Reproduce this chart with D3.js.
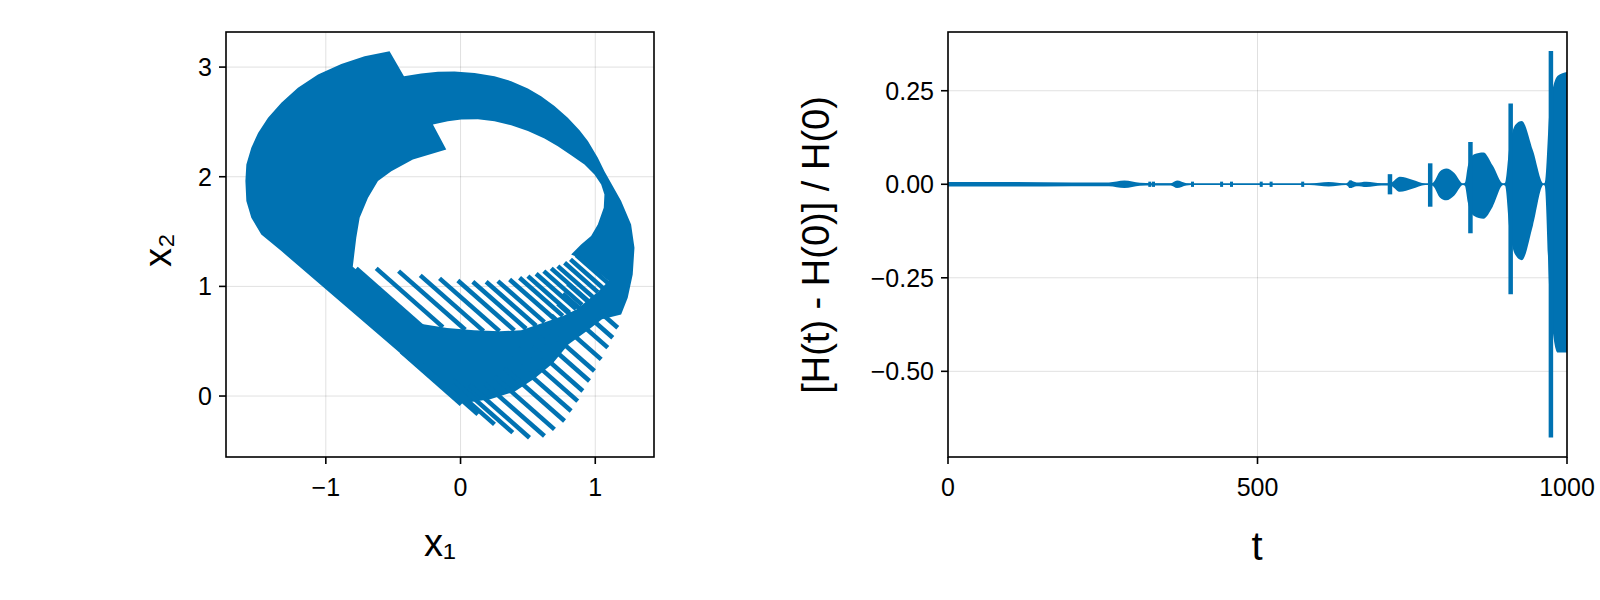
<!DOCTYPE html>
<html>
<head>
<meta charset="utf-8">
<script src="https://cdn.jsdelivr.net/npm/d3@7"></script>
<style>
  body { margin: 0; background: #fff; }
  text { font-family: "Liberation Sans", Arial, sans-serif; fill: #000; }
</style>
</head>
<body>
<svg id="chart" width="1600" height="600"></svg>
<script>
// phase portrait: filled outline (x1, x2)
const outerX1 = [-0.527,-0.420,-0.292,-0.168,-0.045,0.104,0.252,0.376,0.500,0.598,0.697,0.796,0.883,0.945,1.019,1.068,1.192,1.266,1.291,1.278,1.241,1.192,
                 1.050,0.945,0.800,0.685,0.550,0.400,0.220,0.050,-0.050,
                 -1.330,-1.479,-1.553,-1.590,-1.597,-1.590,-1.553,-1.503,-1.429,-1.330,-1.207,-1.058,-0.885,-0.712];
const outerX2 = [3.145,2.917,2.941,2.957,2.960,2.947,2.917,2.871,2.805,2.735,2.644,2.537,2.425,2.325,2.173,2.051,1.778,1.565,1.352,1.109,0.896,0.744,
                 0.700,0.600,0.470,0.300,0.160,0.040,-0.030,-0.060,-0.030,
                 1.322,1.474,1.626,1.778,1.960,2.112,2.264,2.400,2.537,2.674,2.811,2.932,3.029,3.099];
// inner hole + gap zone of the upper stripes
const holeX1 = [-0.205,-0.094,0.005,0.129,0.252,0.376,0.500,0.623,0.722,0.821,0.920,0.994,1.044,1.068,1.063,1.019,0.969,0.895,0.821,0.900,1.100,
                1.020,0.940,0.860,0.760,0.620,0.450,0.290,0.100,-0.100,-0.300,-0.800,
                -0.774,-0.749,-0.687,-0.613,-0.514,-0.354,-0.106];
const holeX2 = [2.476,2.507,2.522,2.525,2.507,2.470,2.416,2.349,2.279,2.197,2.112,2.021,1.930,1.838,1.717,1.565,1.459,1.383,1.291,1.250,1.050,
                0.950,0.870,0.790,0.730,0.670,0.600,0.590,0.600,0.620,0.660,1.180,
                1.443,1.626,1.808,1.960,2.051,2.157,2.249];

// stripes: start (x1,x2) and end (x1,x2)
const stripeX1a = [-0.774,-0.626,-0.460,-0.299,-0.156,-0.020,0.091,0.190,0.277,0.364,0.438,0.500,0.561,0.618,0.673,0.722,0.772,0.816,0.858,
                   -0.440,-0.316,-0.193,-0.057,0.067,0.178,0.252,0.327,0.376,0.425,0.537,0.586,0.623,0.673,0.722,0.759,0.796];
const stripeX2a = [1.164,1.164,1.139,1.100,1.073,1.054,1.042,1.042,1.048,1.063,1.079,1.094,1.115,1.139,1.164,1.185,1.215,1.246,1.285,
                   0.405,0.314,0.223,0.147,0.101,0.116,0.177,0.253,0.344,0.435,0.447,0.538,0.629,0.735,0.842,0.933,1.024];
const stripeX1b = [-0.279,-0.131,0.035,0.171,0.289,0.400,0.487,0.561,0.623,0.698,0.759,0.809,0.858,0.902,0.945,0.982,1.019,1.063,1.105,
                   0.005,0.129,0.252,0.388,0.512,0.623,0.697,0.772,0.821,0.870,0.908,0.957,0.994,1.044,1.093,1.130,1.167];
const stripeX2b = [0.629,0.629,0.604,0.592,0.592,0.599,0.614,0.641,0.674,0.702,0.731,0.760,0.794,0.831,0.870,0.904,0.948,0.979,1.018,
                   -0.076,-0.167,-0.258,-0.334,-0.380,-0.365,-0.304,-0.228,-0.137,-0.046,0.046,0.137,0.228,0.334,0.441,0.532,0.623];

// energy error envelope
const envT  = [0,100,200,260,285,310,330,360,370,385,400,440,460,500,560,584,615,643,650,660,676,700,714,717,730,750,771,779,784,795,805,818,832,835,840,850,865,880,897,900,907,917,927,945,962,964,972,985,1000];
const envHi = [0.006,0.006,0.005,0.005,0.01,0.004,0.003,0.003,0.01,0.003,0.002,0.002,0.002,0.002,0.002,0.002,0.006,0.002,0.01,0.005,0.007,0.003,0.003,0.005,0.02,0.012,0.002,0.002,0.005,0.035,0.042,0.03,0.002,0.004,0.05,0.08,0.085,0.05,0.002,0.004,0.10,0.16,0.169,0.09,0.002,0.004,0.20,0.29,0.30];
const envLo = [-0.006,-0.006,-0.005,-0.005,-0.01,-0.004,-0.003,-0.003,-0.01,-0.003,-0.002,-0.002,-0.002,-0.002,-0.002,-0.002,-0.006,-0.002,-0.01,-0.005,-0.007,-0.003,-0.003,-0.005,-0.02,-0.012,-0.002,-0.002,-0.005,-0.036,-0.043,-0.03,-0.002,-0.004,-0.05,-0.085,-0.092,-0.06,-0.002,-0.004,-0.12,-0.19,-0.203,-0.11,-0.002,-0.004,-0.30,-0.45,-0.45];
const spikeT  = [326,332,395,442,458,506,522,573,650,714,779,844,909,974];
const spikeHi = [0.007,0.007,0.007,0.007,0.007,0.007,0.007,0.007,0.01,0.027,0.056,0.113,0.216,0.356];
const spikeLo = [-0.007,-0.007,-0.007,-0.007,-0.007,-0.007,-0.007,-0.007,-0.01,-0.027,-0.06,-0.131,-0.294,-0.677];

const leftTicksX = [-1,0,1], leftTicksY = [0,1,2,3];
const rightTicksX = [0,500,1000], rightTicksY = [0.25,0,-0.25,-0.5];

const blue = "#0072b2";
const svg = d3.select("#chart");

function grid(g, x, y, xt, yt) {
  const [x0, x1] = x.range(), [y1, y0] = y.range();
  g.selectAll(".gx").data(xt).join("line").attr("class","gx").attr("x1", d => x(d)).attr("x2", d => x(d))
    .attr("y1", y0).attr("y2", y1).attr("stroke", "#000").attr("stroke-opacity", 0.12);
  g.selectAll(".gy").data(yt).join("line").attr("class","gy").attr("y1", d => y(d)).attr("y2", d => y(d))
    .attr("x1", x0).attr("x2", x1).attr("stroke", "#000").attr("stroke-opacity", 0.12);
}
function axes(g, x, y, xt, yt, xfmt, yfmt) {
  const [x0, x1] = x.range(), [y1, y0] = y.range();
  g.append("rect").attr("x", x0).attr("y", y0).attr("width", x1 - x0).attr("height", y1 - y0)
    .attr("fill", "none").attr("stroke", "#000").attr("stroke-width", 1.6);
  xt.forEach(d => {
    g.append("line").attr("x1", x(d)).attr("x2", x(d)).attr("y1", y1).attr("y2", y1 + 7).attr("stroke", "#000").attr("stroke-width", 1.6);
    g.append("text").attr("x", x(d)).attr("y", y1 + 39).attr("text-anchor", "middle").attr("font-size", 25).text(xfmt(d));
  });
  yt.forEach(d => {
    g.append("line").attr("x1", x0 - 7).attr("x2", x0).attr("y1", y(d)).attr("y2", y(d)).attr("stroke", "#000").attr("stroke-width", 1.6);
    g.append("text").attr("x", x0 - 14).attr("y", y(d)).attr("dy", "0.36em").attr("text-anchor", "end").attr("font-size", 25).text(yfmt(d));
  });
}
const minus = s => s.replace("-", "\u2212");

// left panel
const xL = d3.scaleLinear().domain([-1.741, 1.436]).range([226, 654]);
const yL = d3.scaleLinear().domain([-0.556, 3.32]).range([457, 32]);
const gL = svg.append("g");
grid(gL, xL, yL, leftTicksX, leftTicksY);
const ring = d3.line().x(d => xL(d[0])).y(d => yL(d[1]));
gL.append("path")
  .attr("d", ring(d3.zip(outerX1, outerX2)) + "Z" + ring(d3.zip(holeX1, holeX2)) + "Z")
  .attr("fill", blue).attr("fill-rule", "evenodd");
gL.selectAll(".stripe").data(d3.range(stripeX1a.length)).join("line")
  .attr("x1", i => xL(stripeX1a[i])).attr("y1", i => yL(stripeX2a[i]))
  .attr("x2", i => xL(stripeX1b[i])).attr("y2", i => yL(stripeX2b[i]))
  .attr("stroke", blue).attr("stroke-width", 4.5);
axes(gL, xL, yL, leftTicksX, leftTicksY, d => minus(String(d)), d => String(d));
svg.append("text").attr("x", 440).attr("y", 556).attr("text-anchor", "middle").attr("font-size", 38).text("x\u2081");
svg.append("text").attr("transform", "translate(171,250) rotate(-90)").attr("text-anchor", "middle").attr("font-size", 38).text("x\u2082");

// right panel
const xR = d3.scaleLinear().domain([0, 1000]).range([948, 1567]);
const yR = d3.scaleLinear().domain([-0.729, 0.407]).range([457, 32]);
const gR = svg.append("g");
grid(gR, xR, yR, rightTicksX, rightTicksY);
const area = d3.area().curve(d3.curveMonotoneX).x(d => xR(d[0])).y0(d => yR(d[2])).y1(d => yR(d[1]));
const env = d3.zip(envT, envHi, envLo);
gR.append("path").attr("d", area(env)).attr("fill", blue);
gR.append("path").attr("d", d3.line().x(d => xR(d[0])).y(() => yR(0))(env))
  .attr("stroke", blue).attr("stroke-width", 1.6).attr("fill", "none");
gR.selectAll(".spike").data(d3.range(spikeT.length)).join("line")
  .attr("x1", i => xR(spikeT[i])).attr("x2", i => xR(spikeT[i]))
  .attr("y1", i => yR(spikeHi[i])).attr("y2", i => yR(spikeLo[i]))
  .attr("stroke", blue).attr("stroke-width", i => i < 9 ? 3 : 4.5);
axes(gR, xR, yR, rightTicksX, rightTicksY, d => String(d), d => minus(d3.format(".2f")(d)));
svg.append("text").attr("x", 1257).attr("y", 560).attr("text-anchor", "middle").attr("font-size", 40).text("t");
svg.append("text").attr("transform", "translate(829,245) rotate(-90)").attr("text-anchor", "middle").attr("font-size", 38)
  .text("[H(t) - H(0)] / H(0)");
</script>
</body>
</html>
